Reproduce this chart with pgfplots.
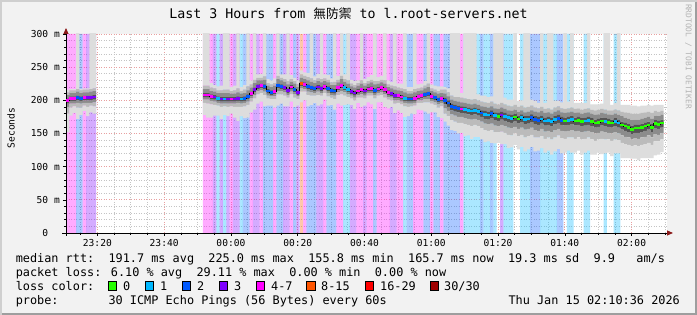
\documentclass[border=0pt]{standalone}
\usepackage{pgfplots}
\pgfplotsset{compat=1.18}
\usepackage{pgfplotstable}
\usepackage{fontspec}
\setmainfont{DejaVu Sans Mono}
\newfontfamily\cjk{Noto Sans CJK TC}
\usetikzlibrary{arrows.meta}

\definecolor{bgc}{HTML}{F2F2F2}
\definecolor{shadeA}{HTML}{CFCFCF}
\definecolor{shadeB}{HTML}{9E9E9E}
\definecolor{mingrid}{HTML}{C4C4C4}
\definecolor{majgrid}{HTML}{E8A0A0}
\definecolor{arrowred}{HTML}{8B1A1A}
\definecolor{wm}{HTML}{B4B4B4}
\definecolor{lz}{HTML}{26FF00}
\definecolor{lone}{HTML}{00B8FF}
\definecolor{ltwo}{HTML}{0059FF}
\definecolor{lthree}{HTML}{7E00FF}
\definecolor{lfour}{HTML}{FF00FF}
\definecolor{leight}{HTML}{FF5500}
\definecolor{lsixteen}{HTML}{FF0000}
\definecolor{lthirty}{HTML}{A00000}
\definecolor{gA}{HTML}{DDDDDD}
\definecolor{gB}{HTML}{BBBBBB}
\definecolor{gC}{HTML}{8C8C8C}
\definecolor{gD}{HTML}{555555}

\newcommand\lf{\fontsize{11.85}{14}\selectfont}
\newcommand\af{\fontsize{9.6}{11}\selectfont}

\pgfplotsset{
  base/.style={at={(66pt,82pt)}, anchor=south west, scale only axis, width=601pt, height=199pt, xmin=0, xmax=180, ymin=0, ymax=300},
  ticks/.style={
    xtick={9.4,29.4,49.4,69.4,89.4,109.4,129.4,149.4,169.4},
    minor xtick={4.4,14.4,19.4,24.4,34.4,39.4,44.4,54.4,59.4,64.4,74.4,79.4,84.4,94.4,99.4,104.4,114.4,119.4,124.4,134.4,139.4,144.4,154.4,159.4,164.4,174.4,179.4},
    ytick={0,50,100,150,200,250,300},
    minor ytick={10,20,30,40,60,70,80,90,110,120,130,140,160,170,180,190,210,220,230,240,260,270,280,290}},
  stripe/.style={ybar, bar width=1, bar shift=0pt, draw=none, fill=#1, fill opacity=0.33},
  med/.style={only marks, mark=-, mark size=1.67pt, mark options={draw=#1, line width=2.6pt, solid}},
}

% t = minutes since 23:10:36 (bar centre), m = median rtt (ms),
% d/u = extent of the smoke shades below/above the median (ms)
\pgfplotstableread{
t m d1 u1 d2 u2 d3 u3 d4 u4
0.5 200 48 16 20 12 10 8 5 3
1.5 203 26 14 14 12 8 8 4 3
2.5 203 22 14 12 12 8 8 4 3
3.5 204 32 150 15 13 8 9 4 3
4.5 203 25 14 14 12 8 8 4 3
5.5 204 20 14 12 12 8 8 4 3
6.5 204 28 14 14 12 8 8 4 3
7.5 204 22 150 12 13 8 9 4 3
8.5 205 25 150 14 13 8 9 4 3
41.5 208 30 150 12 14 7 9 4 3
42.5 208 34 150 13 14 7 9 4 3
43.5 206 32 20 12 13 7 8 4 3
44.5 205 28 18 12 13 7 8 4 3
45.5 203 26 18 11 12 7 8 4 3
46.5 202 30 20 12 13 7 9 4 3
47.5 202 24 150 11 14 7 9 4 3
48.5 202 26 150 12 14 7 9 4 3
49.5 202 22 18 11 12 7 8 4 3
50.5 202 28 20 12 13 7 8 4 3
51.5 203 34 150 13 15 7 9 4 3
52.5 202 26 18 12 12 7 8 4 3
53.5 203 30 20 12 13 7 8 4 3
54.5 206 32 150 13 15 8 9 4 3
55.5 210 28 20 12 14 7 9 4 3
56.5 216 30 150 13 15 8 10 4 3
57.5 221 26 18 12 13 7 9 4 3
58.5 222 24 18 11 12 7 8 4 3
59.5 221 30 150 13 15 8 10 4 3
60.5 214 22 18 11 12 7 8 4 3
61.5 212 20 18 10 12 6 8 4 3
62.5 213 24 20 11 13 7 9 4 3
63.5 222 30 150 13 15 8 10 4 3
64.5 221 26 18 12 13 7 9 4 3
65.5 219 28 20 12 13 7 9 4 3
66.5 215 24 150 11 14 7 9 4 3
67.5 220 22 18 11 12 7 8 4 3
68.5 216 26 18 12 13 7 9 4 3
69.5 212 20 18 10 12 6 8 4 3
70.5 225 28 20 12 14 7 9 4 3
71.5 224 24 18 11 13 7 8 4 3
72.5 221 30 20 13 14 8 9 4 3
73.5 219 26 150 12 14 7 9 4 3
74.5 218 22 18 11 12 7 8 4 3
75.5 220 28 20 12 13 7 9 4 3
76.5 218 24 150 11 14 7 9 4 3
77.5 221 20 18 10 12 6 8 4 3
78.5 218 26 20 12 13 7 9 4 3
79.5 215 22 18 11 12 7 8 4 3
80.5 214 28 150 12 14 7 9 4 3
81.5 219 24 18 11 12 7 8 4 3
82.5 222 30 150 13 15 8 10 4 3
83.5 219 26 20 12 13 7 9 4 3
84.5 216 22 150 11 14 7 9 4 3
85.5 213 20 18 10 12 6 8 4 3
86.5 211 24 18 11 12 7 8 4 3
87.5 214 18 16 10 12 6 8 4 3
88.5 216 26 150 12 14 7 9 4 3
89.5 214 22 18 11 12 7 8 4 3
90.5 217 20 18 10 12 6 8 4 3
91.5 218 24 20 11 13 7 9 4 3
92.5 215 28 150 12 14 7 9 4 3
93.5 217 20 18 10 12 6 8 4 3
94.5 219 22 18 11 12 7 8 4 3
95.5 216 26 150 12 14 7 9 4 3
96.5 212 24 18 11 12 7 8 4 3
97.5 210 20 18 10 12 6 8 4 3
98.5 207 26 150 12 14 7 9 4 3
99.5 207 22 18 11 12 7 8 4 3
100.5 205 24 20 11 13 7 9 4 3
101.5 203 28 150 12 14 7 9 4 3
102.5 202 26 18 12 12 7 8 4 3
103.5 202 22 18 11 12 7 8 4 3
104.5 203 24 150 11 14 7 9 4 3
105.5 206 20 18 10 12 6 8 4 3
106.5 207 22 18 11 12 7 8 4 3
107.5 209 26 20 12 13 7 9 4 3
108.5 210 30 150 13 15 8 10 4 3
109.5 206 24 18 11 12 7 8 4 3
110.5 204 22 18 11 12 7 8 4 3
111.5 201 26 20 12 13 7 9 4 3
112.5 203 30 18 12 13 7 8 4 3
113.5 200 32 20 20 16 12 10 6 4
114.5 196 34 22 20 16 12 10 6 4
115.5 191 36 150 21 16 12 10 6 4
116.5 189 35 150 21 16 12 10 6 4
117.5 188 38 150 22 17 13 10 6 4
118.5 187 36 24 21 17 12 10 6 4
119.5 186 40 150 22 17 13 10 6 4
120.5 185 38 150 22 17 13 10 6 4
121.5 184 42 150 23 17 13 10 6 4
122.5 185 40 150 22 17 13 10 6 4
123.5 183 38 26 22 17 13 10 6 4
124.5 181 40 26 23 17 13 10 6 4
125.5 179 42 28 24 18 14 11 7 5
126.5 178 40 27 24 18 14 11 7 5
127.5 180 44 26 25 18 15 11 7 5
128.5 177 42 150 25 18 15 11 7 5
129.5 176 40 150 24 18 15 11 7 5
130.5 178 44 150 25 18 15 11 7 5
131.5 176 42 28 25 18 15 11 7 5
132.5 174 46 27 26 18 15 11 7 5
133.5 173 44 28 26 18 15 11 7 5
134.5 175 42 150 25 18 15 11 7 5
135.5 172 46 27 26 18 15 11 7 5
136.5 174 44 26 26 18 15 11 7 5
137.5 171 48 150 27 18 15 11 7 5
138.5 172 46 150 26 18 15 11 7 5
139.5 174 44 27 26 18 15 11 7 5
140.5 171 48 28 27 18 16 12 7 5
141.5 170 46 26 26 18 16 12 7 5
142.5 172 44 150 26 18 15 12 7 5
143.5 169 48 27 27 18 16 12 7 5
144.5 170 46 150 26 18 16 12 7 5
145.5 168 50 150 27 18 16 12 7 5
146.5 171 48 28 27 18 16 12 7 5
147.5 173 46 26 26 18 16 12 7 5
148.5 170 50 27 27 18 16 12 7 5
149.5 169 48 150 27 18 16 12 7 5
150.5 170 46 28 26 18 16 12 7 5
151.5 171 50 150 27 18 16 12 7 5
152.5 169 48 27 27 18 16 12 7 5
153.5 170 46 26 26 18 16 12 7 5
154.5 168 50 28 27 18 16 12 7 5
155.5 169 48 27 27 18 16 12 7 5
156.5 170 46 150 26 18 16 12 7 5
157.5 168 50 26 27 18 16 12 7 5
158.5 166 48 28 27 19 16 12 7 5
159.5 167 46 27 26 19 16 12 7 5
160.5 169 50 26 27 18 16 12 7 5
161.5 168 48 150 27 18 16 12 7 5
162.5 167 46 150 26 18 16 12 7 5
163.5 166 50 27 27 19 16 12 7 5
164.5 168 48 28 27 18 16 12 7 5
165.5 166 46 150 26 19 16 12 7 5
166.5 163 50 30 27 20 16 13 7 5
167.5 161 48 32 27 21 16 13 7 5
168.5 159 46 34 26 22 15 13 7 5
169.5 156 44 36 25 24 15 14 7 6
170.5 158 46 34 26 22 15 13 7 5
171.5 158 48 33 27 22 16 13 7 5
172.5 159 46 33 26 22 15 13 7 5
173.5 161 48 31 27 21 16 13 7 5
174.5 163 50 30 27 20 16 12 7 5
175.5 159 46 33 26 22 15 13 7 5
176.5 165 48 28 27 19 16 12 7 5
177.5 164 46 29 26 19 16 12 7 5
178.5 166 44 27 25 18 15 12 7 5
}\rtt

% minutes by loss class (t, median)
\pgfplotstableread{
t m
129.5 176
134.5 175
135.5 172
149.5 169
152.5 169
153.5 170
154.5 168
157.5 168
158.5 166
159.5 167
160.5 169
162.5 167
163.5 166
166.5 163
167.5 161
168.5 159
169.5 156
170.5 158
171.5 158
172.5 159
173.5 161
174.5 163
175.5 159
176.5 165
177.5 164
178.5 166
}\czero
\pgfplotstableread{
t m
45.5 203
47.5 202
52.5 202
83.5 219
84.5 216
101.5 203
119.5 186
120.5 185
121.5 184
122.5 185
123.5 183
125.5 179
126.5 178
128.5 177
131.5 176
132.5 174
133.5 173
136.5 174
137.5 171
138.5 172
142.5 172
143.5 169
144.5 170
145.5 168
146.5 171
150.5 170
151.5 171
155.5 169
156.5 170
161.5 168
164.5 168
165.5 166
}\cone
\pgfplotstableread{
t m
3.5 204
4.5 203
53.5 203
54.5 206
59.5 221
60.5 214
61.5 212
63.5 222
64.5 221
68.5 216
72.5 221
73.5 219
74.5 218
78.5 218
79.5 215
80.5 214
92.5 215
102.5 202
103.5 202
107.5 209
108.5 210
110.5 204
111.5 201
113.5 200
114.5 196
115.5 191
116.5 189
117.5 188
124.5 181
127.5 180
139.5 174
140.5 171
141.5 170
147.5 173
148.5 170
}\ctwo
\pgfplotstableread{
t m
6.5 204
7.5 204
8.5 205
44.5 205
46.5 202
48.5 202
50.5 202
51.5 203
56.5 216
57.5 221
65.5 219
66.5 215
69.5 212
75.5 220
76.5 218
85.5 213
86.5 211
89.5 214
97.5 210
98.5 207
130.5 178
}\cthree
\pgfplotstableread{
t m
0.5 200
1.5 203
2.5 203
5.5 204
41.5 208
42.5 208
43.5 206
49.5 202
55.5 210
58.5 222
62.5 213
67.5 220
71.5 224
77.5 221
81.5 219
82.5 222
87.5 214
88.5 216
90.5 217
91.5 218
93.5 217
94.5 219
95.5 216
96.5 212
99.5 207
100.5 205
104.5 203
105.5 206
106.5 207
109.5 206
112.5 203
118.5 187
}\cfour
\pgfplotstableread{
t m
70.5 225
}\ceight

\begin{document}
\begin{tikzpicture}[x=1pt,y=1pt]
\fill[bgc] (0,0) rectangle (697,315);
\fill[shadeA] (0,0) rectangle (2,315);
\fill[shadeA] (0,313) rectangle (697,315);
\fill[shadeB] (695,0) rectangle (697,313);
\fill[shadeB] (2,0) rectangle (697,2);

% layer 1: canvas, grid, loss background
\begin{axis}[base, ticks,
  axis background/.style={fill=white},
  axis line style={draw=none}, tick style={draw=none},
  xticklabel=\relax, yticklabel=\relax,
  grid=both,
  major grid style={draw=majgrid, line width=0.7pt, dash pattern=on 1pt off 1.5pt},
  minor grid style={draw=mingrid, line width=0.7pt, dash pattern=on 1pt off 1.5pt},
]
\addplot[stripe=lone] table[x=t, y expr=300] {\cone};
\addplot[stripe=ltwo] table[x=t, y expr=300] {\ctwo};
\addplot[stripe=lthree] table[x=t, y expr=300] {\cthree};
\addplot[stripe=lfour] table[x=t, y expr=300] {\cfour};
\addplot[stripe=leight] table[x=t, y expr=300] {\ceight};
\end{axis}

% layer 2: smoke
\begin{axis}[base, hide axis, ybar stacked, bar width=1]
\addplot[draw=none, fill=none] table[x=t, y expr=\thisrow{m}-\thisrow{d1}] {\rtt};
\addplot[draw=none, fill=gA] table[x=t, y expr=\thisrow{d1}-\thisrow{d2}] {\rtt};
\addplot[draw=none, fill=gB] table[x=t, y expr=\thisrow{d2}-\thisrow{d3}] {\rtt};
\addplot[draw=none, fill=gC] table[x=t, y expr=\thisrow{d3}-\thisrow{d4}] {\rtt};
\addplot[draw=none, fill=gD] table[x=t, y expr=\thisrow{d4}+\thisrow{u4}] {\rtt};
\addplot[draw=none, fill=gC] table[x=t, y expr=\thisrow{u3}-\thisrow{u4}] {\rtt};
\addplot[draw=none, fill=gB] table[x=t, y expr=\thisrow{u2}-\thisrow{u3}] {\rtt};
\addplot[draw=none, fill=gA] table[x=t, y expr=\thisrow{u1}-\thisrow{u2}] {\rtt};
\end{axis}

% layer 3: median, axes, ticks
\begin{axis}[base, ticks,
  axis lines*=left,
  axis line style={black, line width=0.9pt},
  x axis line style={shorten <=-4pt, shorten >=-6pt, -{Triangle[length=6pt,width=5pt,color=arrowred]}},
  y axis line style={shorten <=-3pt, shorten >=-6pt, -{Triangle[length=6pt,width=5pt,color=arrowred]}},
  xticklabels={23:20,23:40,00:00,00:20,00:40,01:00,01:20,01:40,02:00},
  yticklabels={0\hphantom{~m},50 m,100 m,150 m,200 m,250 m,300 m},
  tick align=outside,
  major tick length=3pt, minor tick length=2pt,
  tick style={black, line width=0.6pt},
  every tick label/.append style={font=\af, inner sep=0pt},
  xticklabel style={yshift=-3pt},
  yticklabel style={xshift=-3pt},
]
\addplot[const plot mark mid, black, line width=0.5pt, mark=none, restrict x to domain=0:10] table[x=t, y=m] {\rtt};
\addplot[const plot mark mid, black, line width=0.5pt, mark=none, restrict x to domain=40:180] table[x=t, y=m] {\rtt};
\addplot[med=lz] table[x=t, y=m] {\czero};
\addplot[med=lone] table[x=t, y=m] {\cone};
\addplot[med=ltwo] table[x=t, y=m] {\ctwo};
\addplot[med=lthree] table[x=t, y=m] {\cthree};
\addplot[med=lfour] table[x=t, y=m] {\cfour};
\addplot[med=leight] table[x=t, y=m] {\ceight};
\end{axis}

\node[anchor=base, inner sep=0pt, font=\fontsize{13.3}{16}\selectfont] at (348.5,296) {Last 3 Hours from {\cjk\fontsize{12.7}{16}\selectfont 無防禦} to l.root-servers.net};
\node[rotate=90, inner sep=0pt, font=\af] at (11,187) {Seconds};
\node[rotate=-90, anchor=west, inner sep=0pt, text=wm, font=\fontsize{7.9}{9}\selectfont] at (688.5,311) {RRDTOOL / TOBI OETIKER};

\node[anchor=base west, inner sep=0pt, font=\lf] at (15.6,52) {median rtt:~~191.7 ms avg~~225.0 ms max~~155.8 ms min~~165.7 ms now~~19.3 ms sd~~9.9~~~am/s};
\node[anchor=base west, inner sep=0pt, font=\lf] at (15.6,38) {packet loss: 6.10 \% avg~~29.11 \% max~~0.00 \% min~~0.00 \% now};
\node[anchor=base west, inner sep=0pt, font=\lf] at (15.6,24) {loss color:};
\foreach \xx/\cc/\ll/\lx in {108/lz/0/123, 145/lone/1/160, 182/ltwo/2/197, 219/lthree/3/234, 256.4/lfour/4-7/271, 306.7/leight/8-15/321, 365/lsixteen/16-29/380, 430/lthirty/30\slash 30/444}{
  \filldraw[fill=\cc, draw=black, line width=0.7pt] (\xx,24.8) rectangle ++(8.2,8.4);
  \node[anchor=base west, inner sep=0pt, font=\lf] at (\lx,24) {\ll};
}
\node[anchor=base west, inner sep=0pt, font=\lf] at (15.6,10) {probe:~~~~~~~30 ICMP Echo Pings (56 Bytes) every 60s};
\node[anchor=base east, inner sep=0pt, font=\lf] at (680,10) {Thu Jan 15 02:10:36 2026};
\pgfresetboundingbox
\path[use as bounding box] (0,0) rectangle (697,315);
\end{tikzpicture}
\end{document}
